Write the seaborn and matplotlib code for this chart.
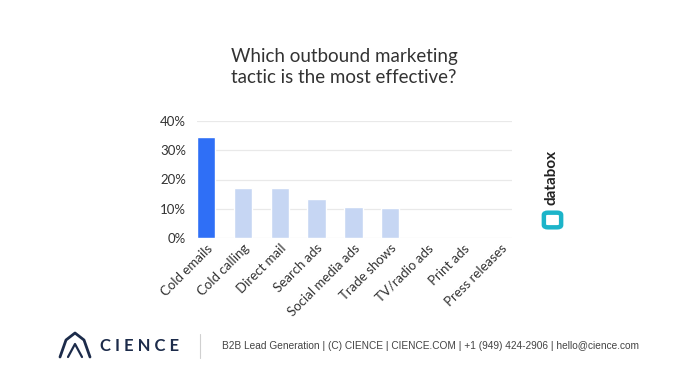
import matplotlib.pyplot as plt
import matplotlib.patches as mpatches
import numpy as np
import pandas as pd
import seaborn as sns

# values (share of respondents, %)
tactics = ["Cold emails", "Cold calling", "Direct mail", "Search ads",
           "Social media ads", "Trade shows", "TV/radio ads", "Print ads",
           "Press releases"]
share = [34.6, 17.2, 17.2, 13.3, 10.5, 10.2, 0, 0, 0]
y_ticks = [0, 10, 20, 30, 40]
y_tick_labels = ["0%", "10%", "20%", "30%", "40%"]

bar_colors = ["#2f6ff6"] + ["#c6d6f3"] * (len(tactics) - 1)

df = pd.DataFrame({"tactic": tactics, "share": share})

sns.set_theme(style="white")
plt.rcParams['font.family'] = ['Lato', 'DejaVu Sans']

fig = plt.figure(figsize=(6.88, 3.87), dpi=100)
ax = fig.add_axes([197 / 688, 1 - 238 / 387, (512 - 197) / 688, (238 - 121) / 387])

sns.barplot(data=df, x="tactic", y="share", hue="tactic", palette=bar_colors,
            legend=False, width=0.5, saturation=1, ax=ax, zorder=3)

ax.set_ylim(0, 40)
ax.set_xlim(-0.25, 8.31)
ax.set_yticks(y_ticks)
ax.set_yticklabels(y_tick_labels)
ax.yaxis.grid(True, color="#e9e9e9", linewidth=0.9, zorder=0)
ax.set_axisbelow(True)
for s in ax.spines.values():
    s.set_visible(False)
ax.set_xlabel("")
ax.set_ylabel("")
ax.tick_params(axis="y", length=0, pad=8, labelsize=9.5, labelcolor="#333333")
ax.tick_params(axis="x", length=0, pad=3, labelsize=9.5, labelcolor="#333333")
plt.setp(ax.get_xticklabels(), rotation=45, ha="right", rotation_mode="anchor")

# title
fig.text(0.5, 1 - 67 / 387, "Which outbound marketing\ntactic is the most effective?",
         ha="center", va="center", fontsize=13.5, color="#333333", linespacing=1.35)

# databox mark
fig.text(552 / 688, 1 - 177 / 387, "databox", rotation=90, ha="center", va="center",
         fontsize=11, fontweight="bold", color="#222222")
ring = mpatches.FancyBboxPatch((548 / 688, 1 - 225 / 387), 9 / 688, 10 / 387,
                               boxstyle="round,pad=0.006", transform=fig.transFigure,
                               facecolor="none", edgecolor="#1cb4c9", linewidth=3.2)
fig.patches.append(ring)

# footer: CIENCE logo
logo_x = np.array([60, 66, 75, 84, 90]) / 688
logo_y = 1 - np.array([357, 340, 333, 340, 357]) / 387
fig.add_artist(plt.Line2D(logo_x, logo_y, color="#1c2b4a", linewidth=2))
fig.add_artist(plt.Line2D(np.array([68, 75, 82]) / 688, 1 - np.array([357, 344, 357]) / 387,
                          color="#1c2b4a", linewidth=1.6))
fig.text(100 / 688, 1 - 346 / 387, "C I E N C E", ha="left", va="center",
         fontsize=12, fontweight="bold", color="#1c2b4a")
fig.add_artist(plt.Line2D([200 / 688, 200 / 688], [1 - 334 / 387, 1 - 358 / 387],
                          color="#d0d0d0", linewidth=0.8))
fig.text(222 / 688, 1 - 346 / 387,
         "B2B Lead Generation | (C) CIENCE | CIENCE.COM | +1 (949) 424-2906 | hello@cience.com",
         ha="left", va="center", fontsize=7.3, color="#444444",
         family=["Liberation Sans", "DejaVu Sans"])

fig.savefig("out.png", dpi=100, facecolor="white")
